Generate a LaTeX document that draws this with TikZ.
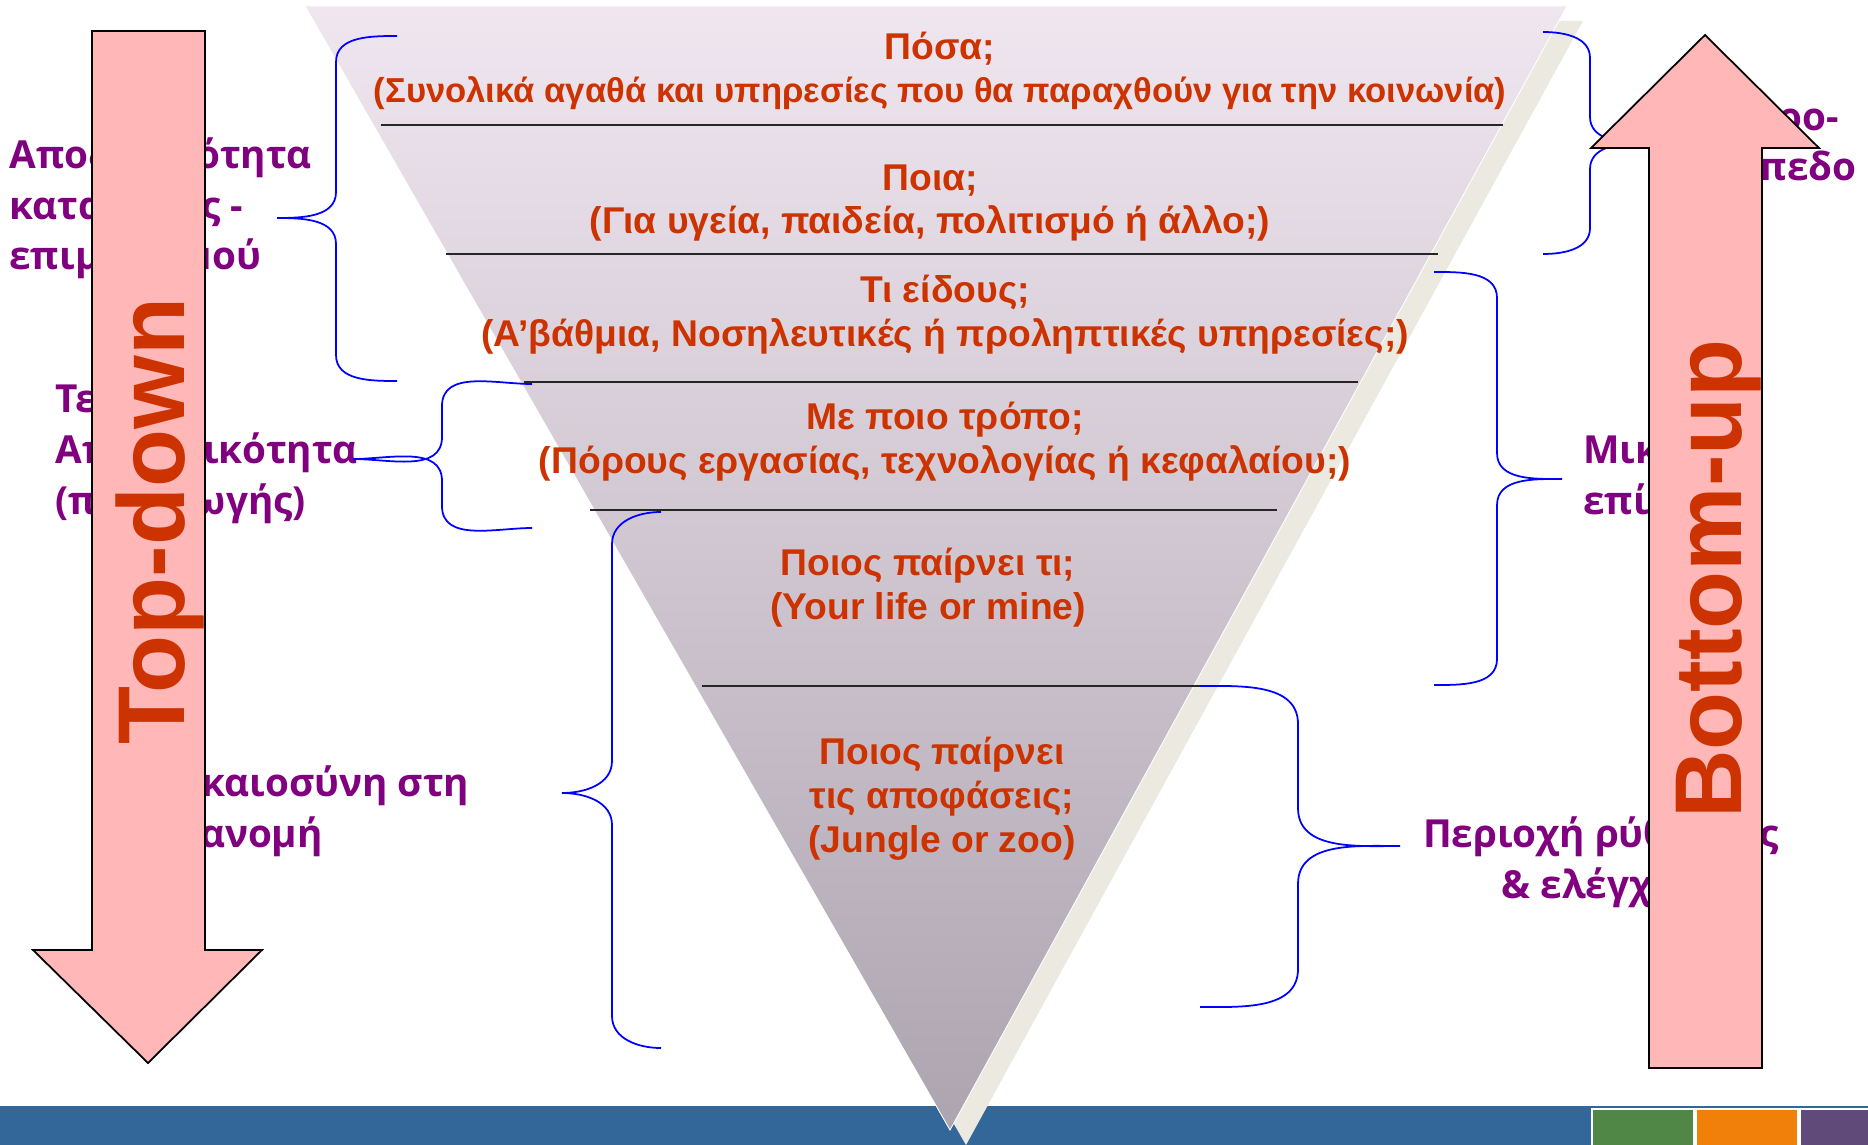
\documentclass[tikz,border=0pt]{standalone}
\usepackage{fontspec}
\setmainfont{Liberation Sans}
\newfontfamily\opensans{Open Sans}

\definecolor{qtext}{RGB}{204,51,0}
\definecolor{lbl}{RGB}{128,0,128}
\definecolor{arrowpink}{RGB}{255,183,183}
\definecolor{band}{RGB}{51,102,153}
\definecolor{shadowbeige}{RGB}{236,234,224}
\definecolor{funneltop}{RGB}{240,230,240}
\definecolor{funnelbottom}{RGB}{172,164,175}
\definecolor{sqgreen}{RGB}{80,134,70}
\definecolor{sqorange}{RGB}{240,128,10}
\definecolor{sqpurple}{RGB}{96,74,122}

\tikzset{
  curl/.style={blue, line width=1pt},
  sepline/.style={line width=1.1pt, black!85},
  question/.style={font=\bfseries\fontsize{21.2}{25}\selectfont, text=qtext,
    align=center, inner sep=0pt, anchor=base},
  sidelabel/.style={font=\opensans\bfseries\fontsize{22}{29}\selectfont, text=lbl,
    inner sep=0pt},
  blockarrow/.style={fill=arrowpink, draw=black, line width=1pt},
  arrowtext/.style={font=\bfseries\fontsize{54}{60}\selectfont, text=qtext,
    rotate=90, anchor=base, inner sep=0pt}
}

% braces: end x, top y, bottom y, spine x, tip x, tip y, bend
\newcommand{\bracetipleft}[7]{%
  \draw[curl] (#1,#2) to[out=180,in=90] (#4,#2+#7) -- (#4,#6-#7)
    to[out=-90,in=0] (#5,#6) to[out=0,in=90] (#4,#6+#7) -- (#4,#3-#7)
    to[out=-90,in=180] (#1,#3);}
\newcommand{\bracetipright}[7]{%
  \draw[curl] (#1,#2) to[out=0,in=90] (#4,#2+#7) -- (#4,#6-#7)
    to[out=-90,in=180] (#5,#6) to[out=180,in=90] (#4,#6+#7) -- (#4,#3-#7)
    to[out=-90,in=0] (#1,#3);}

\begin{document}
\begin{tikzpicture}[x=0.02cm, y=-0.02cm]
  \useasboundingbox (0,0) rectangle (1868,1145);

  % footer band
  \fill[band] (0,1106) rectangle (1868,1145);
  \fill[white] (1591,1108) rectangle (1868,1145);
  \foreach \c/\xa/\xb in {sqgreen/1593/1693, sqorange/1697/1797, sqpurple/1801/1868}
    \fill[\c] (\xa,1110) rectangle (\xb,1145);

  % funnel
  \fill[shadowbeige] (321,21) -- (1583,21) -- (966,1145) -- cycle;
  \shadedraw[top color=funneltop, bottom color=funnelbottom, draw=white, line width=0.5pt]
    (305,6) -- (1567,6) -- (950,1130) -- cycle;
  \draw[sepline] (381,125) -- (1503,125);
  \draw[sepline] (446,254) -- (1438,254);
  \draw[sepline] (524,382) -- (1358,382);
  \draw[sepline] (590,510) -- (1277,510);
  \draw[sepline] (702,686) -- (1200,686);

  % node base = last line
  \node[question] (howmany) at (940,103) {Πόσα;\\{\fontsize{19.7}{25}\selectfont(Συνολικά αγαθά και υπηρεσίες που θα παραχθούν για την κοινωνία)}};
  \node[question] (which) at (930,234) {Ποια;\\(Για υγεία, παιδεία, πολιτισμό ή άλλο;)};
  \node[question] (kind) at (945,346) {Τι είδους;\\(Α’βάθμια, Νοσηλευτικές ή προληπτικές υπηρεσίες;)};
  \node[question] (how) at (945,473) {Με ποιο τρόπο;\\(Πόρους εργασίας, τεχνολογίας ή κεφαλαίου;)};
  \node[question] (whogets) at (928,619) {Ποιος παίρνει τι;\\(Your life or mine)};
  \node[question] (whodecides) at (942,852) {Ποιος παίρνει\\τις αποφάσεις;\\(Jungle or zoo)};

  % side labels
  \node[sidelabel, align=left, anchor=base west] (alloc) at (9,270) {Αποδοτικότητα\\κατανομής -\\επιμερισμού};
  \node[sidelabel, align=left, anchor=base west] (techeff) at (55,514) {Τεχνική\\Αποδοτικότητα\\(παραγωγής)};
  \node[sidelabel, align=left, anchor=base west] (equity) at (160,847) {Δικαιοσύνη στη\\διανομή};
  \node[sidelabel, align=left, anchor=base west] (macro) at (1693,181) {Μακρο-\\επίπεδο};
  \node[sidelabel, align=left, anchor=base west] (micro) at (1583,514) {Μικρο-\\επίπεδο};
  \node[sidelabel, align=center, anchor=base] (regul) at (1601,898) {Περιοχή ρύθμισης\\\& ελέγχου};

  % braces
  \bracetipleft{397}{36}{381}{336}{277}{218}{26}
  \bracetipleft{532}{384}{528}{442}{353}{459}{22}
  \bracetipleft{661}{512}{1048}{612}{562}{793}{32}
  \bracetipright{1543}{32}{254}{1590}{1640}{143}{26}
  \bracetipright{1434}{272}{685}{1497}{1562}{479}{26}
  \bracetipright{1200}{686}{1007}{1298}{1400}{846}{38}

  % arrows
  \draw[blockarrow] (92,31) -- (205,31) -- (205,950) -- (262,950) -- (148,1063)
    -- (33,950) -- (92,950) -- cycle;
  \draw[blockarrow] (1649,1068) -- (1649,148) -- (1591,148) -- (1705,35)
    -- (1819,148) -- (1762,148) -- (1762,1068) -- cycle;
  \node[arrowtext] (topdown) at (184,521) {Top-down};
  \node[arrowtext] (bottomup) at (1741,579) {Bottom-up};
\end{tikzpicture}
\end{document}
